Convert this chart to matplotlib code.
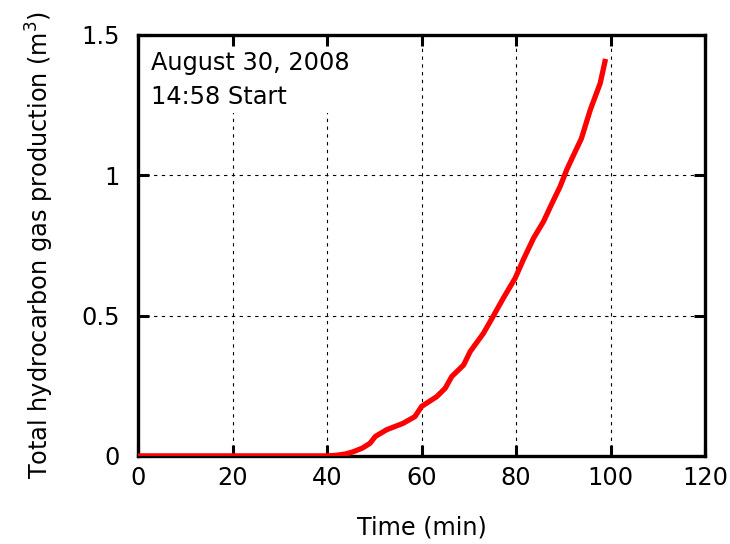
import matplotlib
matplotlib.use("Agg")
import matplotlib.pyplot as plt

time_min = [0, 10, 20, 30, 40, 42, 44, 45.6, 47.5, 49.1, 50.2, 52.6, 56.1, 58.6, 60.0, 63.2,
            65.0, 66.4, 68.9, 70.3, 73.1, 74.9, 77.3, 79.8, 81.5, 83.7, 85.8, 87.6, 89.3,
            90.7, 92.5, 93.8, 95.7, 97.8, 98.8]
gas_m3 = [0, 0, 0, 0, 0, 0.002, 0.007, 0.015, 0.028, 0.045, 0.069, 0.093, 0.116, 0.14, 0.176, 0.211,
          0.241, 0.283, 0.324, 0.372, 0.437, 0.49, 0.562, 0.633, 0.698, 0.776, 0.835, 0.90, 0.959,
          1.019, 1.084, 1.13, 1.233, 1.328, 1.405]

xticks = [0, 20, 40, 60, 80, 100, 120]
yticks = [0, 0.5, 1, 1.5]
yticklabels = ["0", "0.5", "1", "1.5"]

plt.rcParams['font.family'] = ['DejaVu Sans']
FS = 17.3

fig = plt.figure(figsize=(7.3, 5.44), dpi=100)
ax = fig.add_axes([0.189, 0.162, 0.777, 0.774])
ax.plot(time_min, gas_m3, color="red", linewidth=3.8, zorder=3)
ax.set_xlim(0, 120)
ax.set_ylim(0, 1.5)
ax.set_xticks(xticks)
ax.set_yticks(yticks)
ax.set_yticklabels(yticklabels)
ax.grid(True, color="black", linestyle=(0, (3, 4)), linewidth=0.8)
ax.tick_params(direction="in", length=8, width=2.2, labelsize=FS, top=True, right=True)
ax.tick_params(axis="y", pad=13)
ax.tick_params(axis="x", pad=7)
for s in ax.spines.values():
    s.set_linewidth(2.4)
ax.set_xlabel("Time (min)", fontsize=FS, labelpad=19)
ax.set_ylabel("Total hydrocarbon gas production (m$^3$)", fontsize=FS, labelpad=18)
ax.text(0.023, 0.962, "August 30, 2008\n14:58 Start", transform=ax.transAxes, fontsize=FS,
        va="top", ha="left", linespacing=1.52,
        bbox=dict(facecolor="white", edgecolor="none", pad=3), zorder=4)
fig.savefig("out.png", dpi=100)
